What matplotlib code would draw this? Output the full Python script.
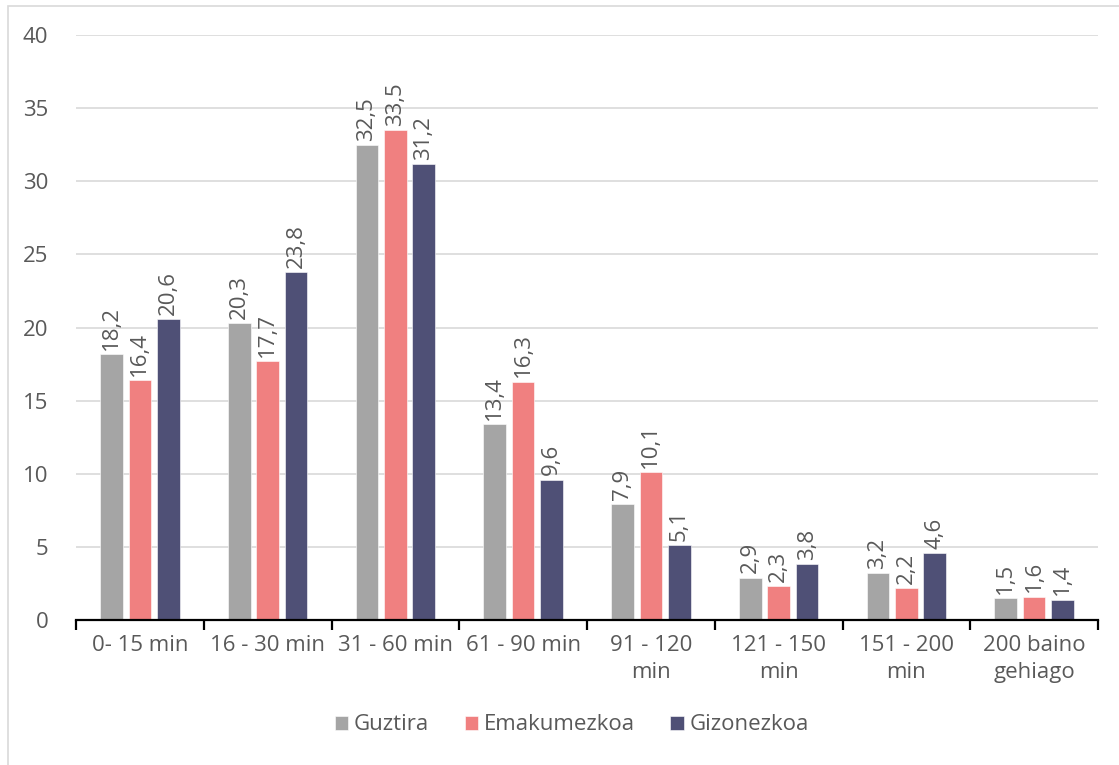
import matplotlib
matplotlib.use("Agg")
import matplotlib.pyplot as plt
import numpy as np
from matplotlib.patches import Rectangle

categories = ["0- 15 min", "16 - 30 min", "31 - 60 min", "61 - 90 min",
              "91 - 120\nmin", "121 - 150\nmin", "151 - 200\nmin", "200 baino\ngehiago"]
series_names = ["Guztira", "Emakumezkoa", "Gizonezkoa"]
guztira = [18.2, 20.3, 32.5, 13.4, 7.9, 2.9, 3.2, 1.5]
emakumezkoa = [16.4, 17.7, 33.5, 16.3, 10.1, 2.3, 2.2, 1.6]
gizonezkoa = [20.6, 23.8, 31.2, 9.6, 5.1, 3.8, 4.6, 1.4]
colors = ["#A5A5A5", "#F08080", "#4F5076"]
yticks = [0, 5, 10, 15, 20, 25, 30, 35, 40]

plt.rcParams['font.family'] = ['Open Sans', 'DejaVu Sans']
text_color = "#595959"
fs = 16

fig = plt.figure(figsize=(11.19, 7.65), dpi=100)
fig.patches.append(Rectangle((8/1119, -0.1), 1.2, 1.1 - 6/765, transform=fig.transFigure,
                             fill=False, edgecolor="#D9D9D9", linewidth=1.2, zorder=0))
ax = fig.add_axes([76/1119, 1 - 620/765, (1098 - 76)/1119, (620 - 35)/765])

x = np.arange(len(categories))
width = 0.178
offset = 0.223
all_series = [guztira, emakumezkoa, gizonezkoa]
for i, (vals, name, col) in enumerate(zip(all_series, series_names, colors)):
    pos = x + (i - 1) * offset
    ax.bar(pos, vals, width, color=col, label=name, zorder=3,
           edgecolor="white", linewidth=0.4)
    for p, v in zip(pos, vals):
        ax.annotate(f"{v:.1f}".replace(".", ","), (p, v), xytext=(0, 3),
                    textcoords="offset points", rotation=90, ha="center", va="bottom",
                    fontsize=fs, color=text_color)

ax.set_xlim(-0.5, len(categories) - 0.5)
ax.set_ylim(0, 40)
ax.set_yticks(yticks)
ax.set_yticklabels([str(t) for t in yticks])
ax.grid(axis="y", color="#D9D9D9", linewidth=1.2, zorder=0)
ax.set_axisbelow(True)
for s in ["left", "right", "top"]:
    ax.spines[s].set_visible(False)
ax.spines["bottom"].set_color("black")
ax.spines["bottom"].set_linewidth(1.6)
ax.spines["bottom"].set_zorder(4)

ax.set_xticks(np.arange(len(categories) + 1) - 0.5, minor=False)
ax.set_xticklabels([])
ax.tick_params(axis="x", which="major", length=7, width=1.6, color="black", direction="out")
ax.set_xticks(x, minor=True)
ax.set_xticklabels(categories, minor=True, fontsize=fs, color=text_color, linespacing=1.35)
ax.tick_params(axis="x", which="minor", length=0, pad=11)
ax.tick_params(axis="y", length=0, pad=20, labelsize=fs, labelcolor=text_color)

leg = fig.legend(loc="center", bbox_to_anchor=(0.511, 1 - 725/765), ncol=3, frameon=False,
                 fontsize=fs, handlelength=0.6, handleheight=0.6, handletextpad=0.25,
                 columnspacing=1.6)
for t in leg.get_texts():
    t.set_color(text_color)

fig.savefig("out.png", dpi=100)
